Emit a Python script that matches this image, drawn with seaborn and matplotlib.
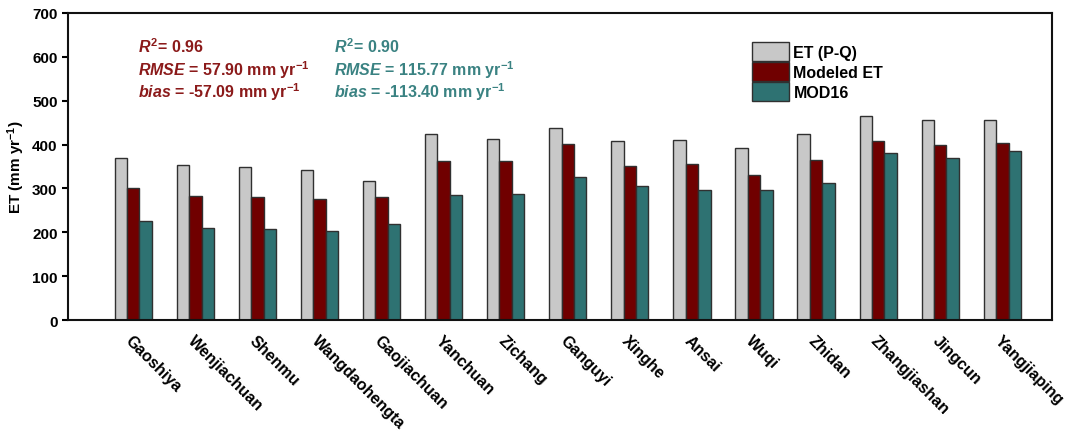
import pandas as pd
import matplotlib.pyplot as plt
import seaborn as sns

# site names and ET values (mm/yr)
sites = ['Gaoshiya', 'Wenjiachuan', 'Shenmu', 'Wangdaohengta', 'Gaojiachuan',
         'Yanchuan', 'Zichang', 'Ganguyi', 'Xinghe', 'Ansai', 'Wuqi', 'Zhidan',
         'Zhangjiashan', 'Jingcun', 'Yangjiaping']
et_pq = [370, 354, 349, 341, 318, 423, 413, 438, 407, 410, 391, 423, 465, 455, 455]
et_model = [301, 283, 280, 275, 281, 362, 362, 401, 351, 355, 330, 364, 408, 399, 404]
et_mod16 = [225, 210, 207, 203, 220, 285, 287, 326, 306, 296, 296, 312, 381, 370, 385]
series = ['ET (P-Q)', 'Modeled ET', 'MOD16']
colors = ['#C8C8C8', '#700000', '#2E7272']

sns.set_style("ticks")
plt.rcParams['font.family'] = ['Liberation Sans', 'DejaVu Sans']
plt.rcParams['font.weight'] = 'bold'
plt.rcParams['text.color'] = 'black'
plt.rcParams['xtick.color'] = 'black'
plt.rcParams['ytick.color'] = 'black'
plt.rcParams['axes.labelcolor'] = 'black'
plt.rcParams['mathtext.fontset'] = 'custom'
plt.rcParams['mathtext.rm'] = 'Liberation Sans:bold'
plt.rcParams['mathtext.it'] = 'Liberation Sans:bold:italic'
plt.rcParams['mathtext.bf'] = 'Liberation Sans:bold'

df = pd.DataFrame({'site': sites * 3,
                   'ET': et_pq + et_model + et_mod16,
                   'type': [s for s in series for _ in sites]})

fig = plt.figure(figsize=(10.75, 4.35), dpi=100)
ax = fig.add_axes([0.0633, 0.262, 0.9153, 0.706])

sns.barplot(data=df, x='site', y='ET', hue='type', hue_order=series,
            palette=colors, width=0.6, edgecolor='#303030', linewidth=1.0,
            saturation=1, ax=ax)

ax.set_xlim(-1.05, 14.8)
ax.set_ylim(0, 700)
ax.set_yticks(range(0, 701, 100))
ax.set_xlabel('')
ax.set_ylabel('ET (mm yr$^{-1}$)', fontsize=11, fontweight='bold')
ax.tick_params(axis='y', labelsize=11, width=1.5, length=4, direction='out')
ax.tick_params(axis='x', length=0, labelsize=11.5, pad=9)
plt.setp(ax.get_xticklabels(), rotation=-45, ha='left', va='top',
         rotation_mode='anchor', fontweight='bold')
for sp in ax.spines.values():
    sp.set_linewidth(1.5)
    sp.set_color('#111111')

ax.legend(loc='upper left', bbox_to_anchor=(0.695, 0.905), frameon=False,
          handlelength=2.3, handleheight=1.4, labelspacing=0.1,
          handletextpad=0.3, borderpad=0, borderaxespad=0,
          prop={'weight': 'bold', 'size': 11.5})

red = '#8B1A1A'
teal = '#3A8282'
tx1, tx2 = 0.071, 0.27
ys = [0.892, 0.818, 0.746]
ax.text(tx1, ys[0], '$R^2$= 0.96', transform=ax.transAxes, color=red,
        fontsize=11.5, fontweight='bold', va='center')
ax.text(tx1, ys[1], '$RMSE$ = 57.90 mm yr$^{-1}$', transform=ax.transAxes,
        color=red, fontsize=11.5, fontweight='bold', va='center')
ax.text(tx1, ys[2], '$bias$ = -57.09 mm yr$^{-1}$', transform=ax.transAxes,
        color=red, fontsize=11.5, fontweight='bold', va='center')
ax.text(tx2, ys[0], '$R^2$= 0.90', transform=ax.transAxes, color=teal,
        fontsize=11.5, fontweight='bold', va='center')
ax.text(tx2, ys[1], '$RMSE$ = 115.77 mm yr$^{-1}$', transform=ax.transAxes,
        color=teal, fontsize=11.5, fontweight='bold', va='center')
ax.text(tx2, ys[2], '$bias$ = -113.40 mm yr$^{-1}$', transform=ax.transAxes,
        color=teal, fontsize=11.5, fontweight='bold', va='center')

fig.savefig('out.png', dpi=100)
